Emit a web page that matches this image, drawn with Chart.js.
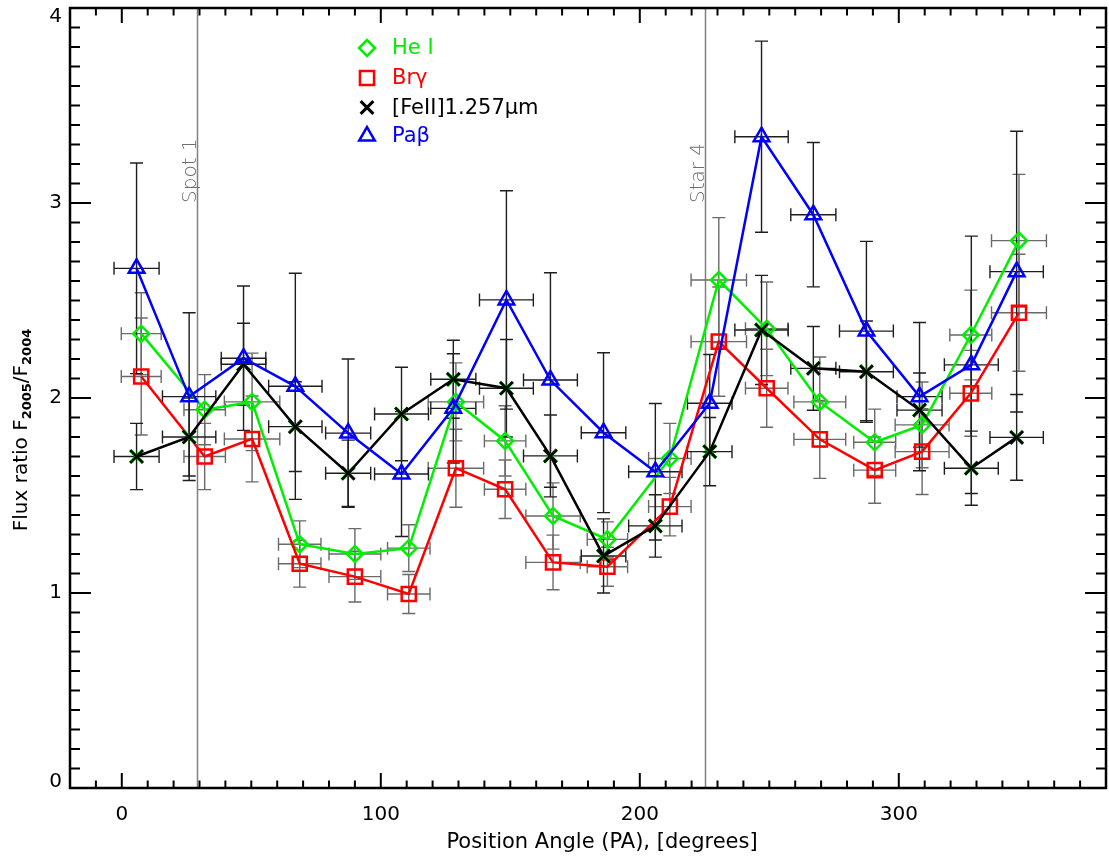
<!DOCTYPE html>
<html>
<head>
<meta charset="utf-8">
<script src="https://cdn.jsdelivr.net/npm/chart.js@4.4.1/dist/chart.umd.min.js"></script>
<style>
  html, body { margin: 0; padding: 0; background: #fff; }
</style>
</head>
<body>
<canvas id="fluxChart" width="1109" height="859"></canvas>
<script>
// position angle bins (two slightly offset sets of bins)
var binsA = [7.5, 32, 50.3, 68.7, 90, 110.8, 129, 148, 166.5, 187.5, 211.6, 230.5, 249, 269.5, 290.7, 309, 327.8, 346.4];
var binsB = [5.7, 26, 47, 67, 87.4, 108, 128, 148.5, 165.5, 186, 206, 227, 247, 267, 287.5, 308, 328, 345.5];
var binHalfA = [7.7, 8, 10.7, 8.2, 10, 8.2, 10.7, 8, 10.5, 7.8, 8.2, 10.7, 8.2, 10, 8.1, 10.4, 8.1, 10.6];
var binHalfB = [8.7, 10.3, 8.6, 10.3, 8.7, 10.4, 8.7, 10.4, 10.4, 8.6, 10.3, 8.6, 10.3, 8.7, 10.4, 8.7, 10.4, 10.3];

// flux ratios F2005/F2004 per line
var heI  = [2.33, 1.94, 1.98, 1.25, 1.20, 1.23, 1.98, 1.78, 1.395, 1.275, 1.69, 2.605, 2.355, 1.98, 1.773, 1.862, 2.323, 2.807];
var brG  = [2.11, 1.70, 1.79, 1.15, 1.084, 0.995, 1.64, 1.532, 1.157, 1.135, 1.443, 2.289, 2.05, 1.788, 1.63, 1.725, 2.024, 2.437];
var feII = [1.70, 1.80, 2.173, 1.853, 1.614, 1.918, 2.096, 2.05, 1.703, 1.19, 1.344, 1.725, 2.349, 2.152, 2.135, 1.938, 1.64, 1.798];
var paB  = [2.665, 2.007, 2.204, 2.06, 1.82, 1.61, 1.947, 2.503, 2.092, 1.822, 1.622, 1.973, 3.34, 2.94, 2.343, 2.007, 2.17, 2.648];

// 1-sigma errors
var heIErr  = [0.21, 0.18, 0.25, 0.12, 0.13, 0.12, 0.2, 0.18, 0.17, 0.09, 0.18, 0.32, 0.24, 0.23, 0.17, 0.22, 0.23, 0.34];
var brGErr  = [0.3, 0.17, 0.22, 0.12, 0.13, 0.10, 0.2, 0.15, 0.14, 0.1, 0.15, 0.28, 0.2, 0.2, 0.17, 0.22, 0.22, 0.3];
var feIIErr = [0.17, 0.2, 0.21, 0.23, 0.17, 0.24, 0.2, 0.25, 0.21, 0.19, 0.16, 0.175, 0.28, 0.215, 0.26, 0.19, 0.19, 0.22];
var paBErr  = [0.54, 0.43, 0.37, 0.58, 0.38, 0.32, 0.28, 0.56, 0.55, 0.41, 0.35, 0.25, 0.49, 0.37, 0.46, 0.38, 0.66, 0.72];

// reference positions marked on the plot
var markLines = [29, 225];
var markNames = ['Spot 1', 'Star 4'];

var xTickLabels = [0, 100, 200, 300];
var yTickLabels = [0, 1, 2, 3, 4];

var FONT = '"DejaVu Sans", sans-serif';

function pts(xs, ys) {
    return xs.map(function (x, i) { return {x: x, y: ys[i]}; });
}

var errorSets = [
    {xs: binsA, ys: heI,  xe: binHalfA, ye: heIErr,  colour: '#6a6a6a'},
    {xs: binsA, ys: brG,  xe: binHalfA, ye: brGErr,  colour: '#6a6a6a'},
    {xs: binsB, ys: feII, xe: binHalfB, ye: feIIErr, colour: '#1e1e1e'},
    {xs: binsB, ys: paB,  xe: binHalfB, ye: paBErr,  colour: '#1e1e1e'}
];

var legendItems = [
    {text: 'He I',          colour: '#00ee00', style: 'rectRot',  radius: 8,   width: 2.5},
    {text: 'Brγ',           colour: '#ff0000', style: 'rect',     radius: 10,  width: 2.5},
    {text: '[FeII]1.257μm', colour: '#000000', style: 'crossRot', radius: 9,   width: 3},
    {text: 'Paβ',           colour: '#0000ff', style: 'triangle', radius: 9,   width: 2.5}
];

const errorBars = {
    id: 'errorBars',
    beforeDatasetsDraw(chart) {
        const {ctx, chartArea, scales: {x, y}} = chart;
        ctx.save();

        // vertical reference lines
        ctx.strokeStyle = '#808080';
        ctx.lineWidth = 1.5;
        markLines.forEach(function (pa) {
            const px = Math.round(x.getPixelForValue(pa)) + 0.5;
            ctx.beginPath();
            ctx.moveTo(px, chartArea.top);
            ctx.lineTo(px, chartArea.bottom);
            ctx.stroke();
        });

        ctx.lineWidth = 1.4;
        const cap = 6.5;
        errorSets.forEach(function (s) {
            ctx.strokeStyle = s.colour;
            s.xs.forEach(function (v, i) {
                const px = x.getPixelForValue(v);
                const py = y.getPixelForValue(s.ys[i]);
                const x0 = x.getPixelForValue(v - s.xe[i]);
                const x1 = x.getPixelForValue(v + s.xe[i]);
                const y0 = y.getPixelForValue(s.ys[i] - s.ye[i]);
                const y1 = y.getPixelForValue(s.ys[i] + s.ye[i]);
                ctx.beginPath();
                ctx.moveTo(x0, py); ctx.lineTo(x1, py);
                ctx.moveTo(x0, py - cap); ctx.lineTo(x0, py + cap);
                ctx.moveTo(x1, py - cap); ctx.lineTo(x1, py + cap);
                ctx.moveTo(px, y0); ctx.lineTo(px, y1);
                ctx.moveTo(px - cap, y0); ctx.lineTo(px + cap, y0);
                ctx.moveTo(px - cap, y1); ctx.lineTo(px + cap, y1);
                ctx.stroke();
            });
        });
        ctx.restore();
    }
};

const frameAndText = {
    id: 'frameAndText',
    afterDraw(chart) {
        const {ctx, chartArea: a, scales: {x, y}} = chart;
        ctx.save();

        // box
        ctx.strokeStyle = '#000';
        ctx.lineWidth = 2.5;
        ctx.strokeRect(a.left, a.top, a.right - a.left, a.bottom - a.top);

        // tick marks, inward on all four sides
        ctx.lineWidth = 2;
        ctx.beginPath();
        for (let v = -20; v <= 380; v += 10) {
            const px = x.getPixelForValue(v);
            const len = (v % 100 === 0) ? 15 : 7.5;
            ctx.moveTo(px, a.bottom); ctx.lineTo(px, a.bottom - len);
            ctx.moveTo(px, a.top); ctx.lineTo(px, a.top + len);
        }
        for (let k = 0; k <= 40; k++) {
            const py = y.getPixelForValue(k / 10);
            const len = (k % 10 === 0) ? 21 : 10;
            ctx.moveTo(a.left, py); ctx.lineTo(a.left + len, py);
            ctx.moveTo(a.right, py); ctx.lineTo(a.right - len, py);
        }
        ctx.stroke();

        // tick labels
        ctx.fillStyle = '#000';
        ctx.font = '20px ' + FONT;
        ctx.textAlign = 'center';
        ctx.textBaseline = 'middle';
        xTickLabels.forEach(function (v) {
            ctx.fillText(String(v), x.getPixelForValue(v), 815);
        });
        ctx.textAlign = 'right';
        yTickLabels.forEach(function (v) {
            let py = y.getPixelForValue(v);
            py = Math.min(Math.max(py, a.top + 9), a.bottom - 6);
            ctx.fillText(String(v), a.left - 8, py);
        });

        // axis titles
        ctx.textAlign = 'center';
        ctx.font = '21px ' + FONT;
        ctx.fillText('Position Angle (PA), [degrees]', (a.left + a.right) / 2 + 14, 843);

        ctx.save();
        ctx.translate(20, 430);
        ctx.rotate(-Math.PI / 2);
        const parts = [
            {t: 'Flux ratio F', sub: false},
            {t: '2005', sub: true},
            {t: '/F', sub: false},
            {t: '2004', sub: true}
        ];
        const bigFont = '20px ' + FONT;
        const subFont = 'bold 13px ' + FONT;
        let total = 0;
        parts.forEach(function (p) {
            ctx.font = p.sub ? subFont : bigFont;
            p.w = ctx.measureText(p.t).width;
            total += p.w;
        });
        let cx = -total / 2;
        ctx.textAlign = 'left';
        ctx.textBaseline = 'alphabetic';
        parts.forEach(function (p) {
            ctx.font = p.sub ? subFont : bigFont;
            ctx.fillText(p.t, cx, p.sub ? 11 : 7);
            cx += p.w;
        });
        ctx.restore();

        // labels beside the reference lines
        ctx.fillStyle = '#6e6e6e';
        ctx.font = '200 20px ' + FONT;
        markLines.forEach(function (pa, i) {
            ctx.save();
            ctx.translate(x.getPixelForValue(pa) - 1, 203);
            ctx.rotate(-Math.PI / 2);
            ctx.textAlign = 'left';
            ctx.textBaseline = 'alphabetic';
            ctx.fillText(markNames[i], 0, 0);
            ctx.restore();
        });

        // legend
        const rows = [48, 78, 107.5, 136];
        legendItems.forEach(function (it, i) {
            ctx.fillStyle = 'rgba(0,0,0,0)';
            ctx.strokeStyle = it.colour;
            ctx.lineWidth = it.width;
            Chart.helpers.drawPoint(ctx, {
                pointStyle: it.style,
                radius: it.radius,
                borderWidth: it.width,
                rotation: 0
            }, 367, rows[i]);
            ctx.fillStyle = it.colour;
            ctx.font = '21px ' + FONT;
            ctx.textAlign = 'left';
            ctx.textBaseline = 'middle';
            ctx.fillText(it.text, 392, rows[i] + 1);
        });

        ctx.restore();
    }
};

function lineSet(label, data, colour, style, radius, order) {
    return {
        label: label,
        data: data,
        showLine: true,
        borderColor: colour,
        borderWidth: 2.5,
        backgroundColor: 'rgba(0,0,0,0)',
        pointStyle: style,
        pointRadius: radius,
        pointBorderWidth: 2.5,
        pointBorderColor: colour,
        pointBackgroundColor: 'rgba(0,0,0,0)',
        order: order
    };
}

const feIIHalo = {
    label: 'FeII halo',
    data: pts(binsB, feII),
    showLine: false,
    pointStyle: 'crossRot',
    pointRadius: 9,
    pointBorderWidth: 3.5,
    pointBorderColor: '#00c800',
    order: 2
};

const config = {
    type: 'scatter',
    data: {
        datasets: [
            lineSet('Paβ', pts(binsB, paB), '#0000ff', 'triangle', 9, 0),
            lineSet('[FeII]1.257μm', pts(binsB, feII), '#000000', 'crossRot', 9, 1),
            feIIHalo,
            lineSet('Brγ', pts(binsA, brG), '#ff0000', 'rect', 10, 3),
            lineSet('He I', pts(binsA, heI), '#00ee00', 'rectRot', 8, 4)
        ]
    },
    options: {
        responsive: false,
        animation: false,
        layout: {
            autoPadding: false,
            padding: {left: 70, right: 3, top: 8, bottom: 71}
        },
        scales: {
            x: {type: 'linear', min: -20, max: 380, display: false},
            y: {type: 'linear', min: 0, max: 4, display: false}
        },
        plugins: {
            legend: {display: false},
            tooltip: {enabled: false}
        }
    },
    plugins: [errorBars, frameAndText]
};

new Chart(document.getElementById('fluxChart').getContext('2d'), config);
</script>
</body>
</html>
